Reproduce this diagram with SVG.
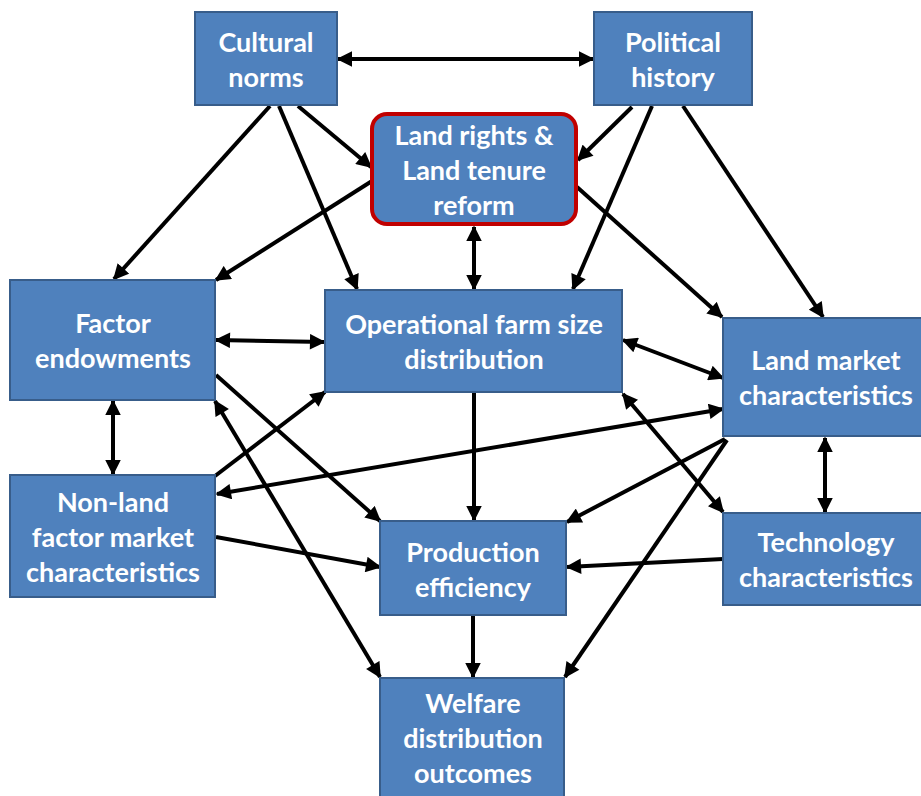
<svg xmlns="http://www.w3.org/2000/svg" width="921" height="796" viewBox="0 0 921 796">
<defs>
<style>
.box{fill:#4F81BD;stroke:#385D8A;stroke-width:2}
.red{fill:#4F81BD;stroke:#C00000;stroke-width:4}
.t{font-family:Lato,"Open Sans",sans-serif;font-weight:bold;font-size:27px;fill:#fff;text-anchor:middle}
.c line{stroke:#000;stroke-width:4;fill:none}
.one{marker-end:url(#ah)}
.two{marker-end:url(#ah);marker-start:url(#ah)}
</style>
<marker id="ah" viewBox="0 0 10 10" refX="9" refY="5" markerWidth="4.1" markerHeight="3.9" orient="auto-start-reverse" markerUnits="strokeWidth">
<path d="M0,0 L10,5 L0,10 z" fill="#000"/>
</marker>
</defs>
<rect width="921" height="796" fill="#fff"/>
<g id="connectors" class="c">
<line class="two" x1="338" y1="59" x2="593" y2="59"/>
<line class="one" x1="298" y1="106" x2="371" y2="167"/>
<line class="one" x1="270" y1="106" x2="114" y2="279"/>
<line class="one" x1="279" y1="106" x2="357" y2="289"/>
<line class="one" x1="372" y1="181" x2="216" y2="280"/>
<line class="one" x1="632" y1="107" x2="578" y2="160"/>
<line class="one" x1="652" y1="106" x2="573" y2="289"/>
<line class="one" x1="683" y1="106" x2="823" y2="317"/>
<line class="one" x1="577" y1="187" x2="722" y2="317"/>
<line class="two" x1="474" y1="227" x2="474" y2="289"/>
<line class="two" x1="216" y1="340" x2="324" y2="342"/>
<line class="two" x1="113" y1="401" x2="113" y2="474"/>
<line class="one" x1="216" y1="375" x2="380" y2="521"/>
<line class="two" x1="215" y1="401" x2="380" y2="677"/>
<line class="one" x1="215" y1="476" x2="325" y2="392"/>
<line class="two" x1="217" y1="494" x2="723" y2="409"/>
<line class="one" x1="216" y1="537" x2="380" y2="567"/>
<line class="one" x1="474" y1="393" x2="474" y2="520"/>
<line class="two" x1="623" y1="340" x2="723" y2="378"/>
<line class="two" x1="623" y1="394" x2="723" y2="512"/>
<line class="one" x1="725" y1="439" x2="567" y2="522"/>
<line class="one" x1="727" y1="440" x2="565" y2="677"/>
<line class="two" x1="825" y1="438" x2="825" y2="512"/>
<line class="one" x1="723" y1="559" x2="567" y2="567"/>
<line class="one" x1="473" y1="616" x2="473" y2="677"/>
</g>
<g id="cultural">
<rect class="box" x="195" y="12" width="142" height="93"/>
<text class="t" x="266" y="52">Cultural</text>
<text class="t" x="266" y="87">norms</text>
</g>
<g id="political">
<rect class="box" x="594" y="12" width="158" height="93"/>
<text class="t" x="673" y="52">Political</text>
<text class="t" x="673" y="87">history</text>
</g>
<g id="landrights">
<rect class="red" x="372" y="114" width="204" height="110" rx="15"/>
<text class="t" x="474" y="145">Land rights &amp;</text>
<text class="t" x="474" y="180">Land tenure</text>
<text class="t" x="474" y="215">reform</text>
</g>
<g id="factor">
<rect class="box" x="10" y="280" width="205" height="120"/>
<text class="t" x="113" y="333">Factor</text>
<text class="t" x="113" y="368">endowments</text>
</g>
<g id="operational">
<rect class="box" x="325" y="290" width="297" height="102"/>
<text class="t" x="474" y="334">Operational farm size</text>
<text class="t" x="474" y="369">distribution</text>
</g>
<g id="landmarket">
<rect class="box" x="723" y="318" width="206" height="118"/>
<text class="t" x="826" y="370">Land market</text>
<text class="t" x="826" y="405">characteristics</text>
</g>
<g id="nonland">
<rect class="box" x="10" y="475" width="205" height="122"/>
<text class="t" x="113" y="512">Non-land</text>
<text class="t" x="113" y="547">factor market</text>
<text class="t" x="113" y="582">characteristics</text>
</g>
<g id="production">
<rect class="box" x="380" y="521" width="186" height="94"/>
<text class="t" x="473" y="562">Production</text>
<text class="t" x="473" y="597">efficiency</text>
</g>
<g id="technology">
<rect class="box" x="723" y="513" width="206" height="92"/>
<text class="t" x="826" y="552">Technology</text>
<text class="t" x="826" y="587">characteristics</text>
</g>
<g id="welfare">
<rect class="box" x="380" y="678" width="184" height="130"/>
<text class="t" x="473" y="713">Welfare</text>
<text class="t" x="473" y="748">distribution</text>
<text class="t" x="473" y="783">outcomes</text>
</g>
</svg>
